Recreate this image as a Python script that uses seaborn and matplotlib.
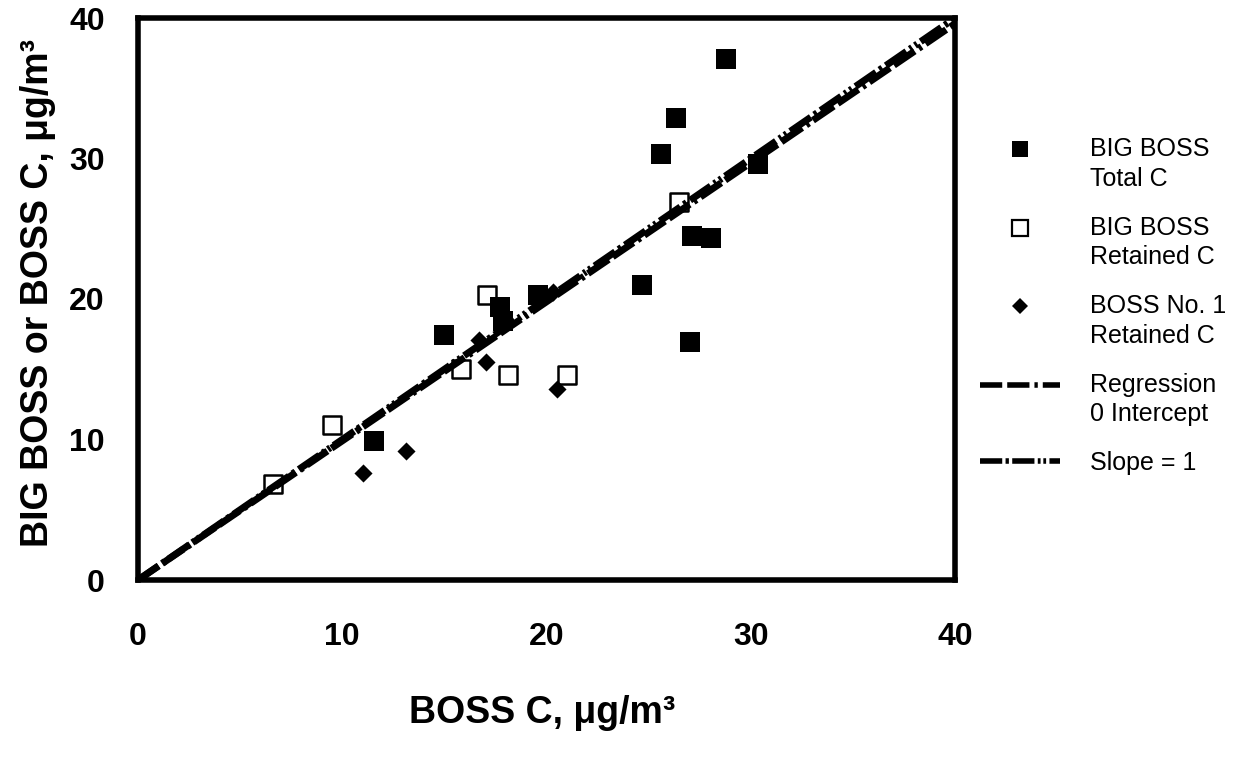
import numpy as np
import pandas as pd
import matplotlib
matplotlib.use("Agg")
import matplotlib.pyplot as plt
import seaborn as sns
from matplotlib.lines import Line2D
from matplotlib.legend_handler import HandlerLine2D

# ---------------- data ----------------
total_x = [11.55, 15.0, 17.7, 17.85, 19.6, 24.7, 25.6, 26.35, 27.1, 28.05, 27.05, 28.8, 30.35]
total_y = [9.9, 17.45, 19.4, 18.4, 20.3, 21.0, 30.3, 32.9, 24.5, 24.35, 16.95, 37.1, 29.6]

retained_x = [6.6, 9.5, 15.8, 17.07, 18.1, 21.0, 26.5]
retained_y = [6.8, 11.0, 15.0, 20.3, 14.6, 14.6, 26.9]

boss1_x = [11.0, 13.1, 16.7, 17.05, 20.3, 20.5]
boss1_y = [7.6, 9.15, 17.1, 15.5, 20.5, 13.6]

reg_slope = 0.99
unit_slope = 1.0
axis_range = [0, 40]
ticks = [0, 10, 20, 30, 40]

legend_labels = ["BIG BOSS\nTotal C", "BIG BOSS\nRetained C", "BOSS No. 1\nRetained C",
                 "Regression\n0 Intercept", "Slope = 1"]
xlabel = "BOSS C, \u03bcg/m\u00b3"
ylabel = "BIG BOSS or BOSS C, \u03bcg/m\u00b3"

# ---------------- style ----------------
sns.set_theme(style="white")
plt.rcParams['font.family'] = ['Liberation Sans', 'DejaVu Sans']
plt.rcParams['text.color'] = 'black'
plt.rcParams['axes.labelcolor'] = 'black'
plt.rcParams['xtick.color'] = 'black'
plt.rcParams['ytick.color'] = 'black'

REG_DASH = (0, (3.6, 0.7, 3.6, 0.7, 0.5, 0.7))
UNIT_DASH = (0, (3.6, 0.6, 0.5, 0.6, 3.6, 0.6, 0.4, 0.5, 0.4, 0.6))

fig = plt.figure(figsize=(12.56, 7.57), dpi=100)
ax = fig.add_axes([138 / 1256, 1 - 580 / 757, 817 / 1256, 562 / 757])

df_total = pd.DataFrame({"x": total_x, "y": total_y})
df_ret = pd.DataFrame({"x": retained_x, "y": retained_y})
df_b1 = pd.DataFrame({"x": boss1_x, "y": boss1_y})

sns.scatterplot(data=df_ret, x="x", y="y", marker="s", s=165, color="white",
                edgecolor="black", linewidth=1.8, ax=ax, zorder=2, legend=False)
sns.scatterplot(data=df_total, x="x", y="y", marker="s", s=190, color="black",
                linewidth=0, ax=ax, zorder=3, legend=False)
sns.scatterplot(data=df_b1, x="x", y="y", marker="D", s=85, color="black",
                linewidth=0, ax=ax, zorder=3, legend=False)

line_x = np.array(axis_range, dtype=float)
sns.lineplot(x=line_x, y=line_x * reg_slope, ax=ax, color="black", lw=5, zorder=4)
ax.lines[-1].set_linestyle(REG_DASH)
sns.lineplot(x=line_x, y=line_x * unit_slope, ax=ax, color="black", lw=5, zorder=4)
ax.lines[-1].set_linestyle(UNIT_DASH)

ax.set_xlim(axis_range)
ax.set_ylim(axis_range)
ax.set_xticks(ticks)
ax.set_yticks(ticks)
ax.set_xticklabels([str(t) for t in ticks], fontsize=23, fontweight="bold")
ax.set_yticklabels([str(t) for t in ticks], fontsize=23, fontweight="bold")
ax.tick_params(axis="x", direction="in", length=4, width=3, pad=30, colors="black")
ax.tick_params(axis="y", direction="in", length=4, width=3, pad=24, colors="black")
for sp in ax.spines.values():
    sp.set_visible(True)
    sp.set_color("black")
    sp.set_linewidth(4)

ax.set_xlabel(xlabel, fontsize=27, fontweight="bold", color="black")
ax.set_ylabel(ylabel, fontsize=27, fontweight="bold", color="black")
ax.xaxis.set_label_coords(0.495, -0.205)
ax.yaxis.set_label_coords(-0.1, 0.51)


class RaisedHandler(HandlerLine2D):
    def __init__(self, raise_pts=0.0, **kw):
        super().__init__(**kw)
        self.raise_pts = raise_pts

    def create_artists(self, legend, orig_handle, xdescent, ydescent, width,
                       height, fontsize, trans):
        arts = super().create_artists(legend, orig_handle, xdescent, ydescent,
                                      width, height, fontsize, trans)
        for a in arts:
            a.set_ydata(np.asarray(a.get_ydata(), float) + self.raise_pts)
        return arts


h_total = Line2D([], [], marker="s", markersize=11, color="black", lw=0, markeredgewidth=0)
h_ret = Line2D([], [], marker="s", markersize=11, markerfacecolor="white",
               markeredgecolor="black", markeredgewidth=1.6, lw=0)
h_b1 = Line2D([], [], marker="D", markersize=8.5, color="black", lw=0, markeredgewidth=0)
h_reg = Line2D([], [], color="black", lw=4, linestyle=(0, (4.0, 0.9, 4.0, 0.9, 0.6, 0.9)))
h_unit = Line2D([], [], color="black", lw=4,
                linestyle=(0, (4.0, 0.6, 0.6, 0.6, 4.0, 0.6, 0.5, 0.5, 0.5, 0.6)))

handles = [h_total, h_ret, h_b1, h_reg, h_unit]
hm = {h: RaisedHandler(raise_pts=11.0) for h in handles[:4]}
leg = fig.legend(handles, legend_labels, loc="upper left",
                 bbox_to_anchor=(980 / 1256, 1 - 137 / 757),
                 frameon=False, fontsize=18, handlelength=3.2, handletextpad=1.2,
                 labelspacing=1.0, borderpad=0, borderaxespad=0, handler_map=hm)
for t in leg.get_texts():
    t.set_linespacing(1.29)
    t.set_color("black")

fig.savefig("out.png", dpi=100)
